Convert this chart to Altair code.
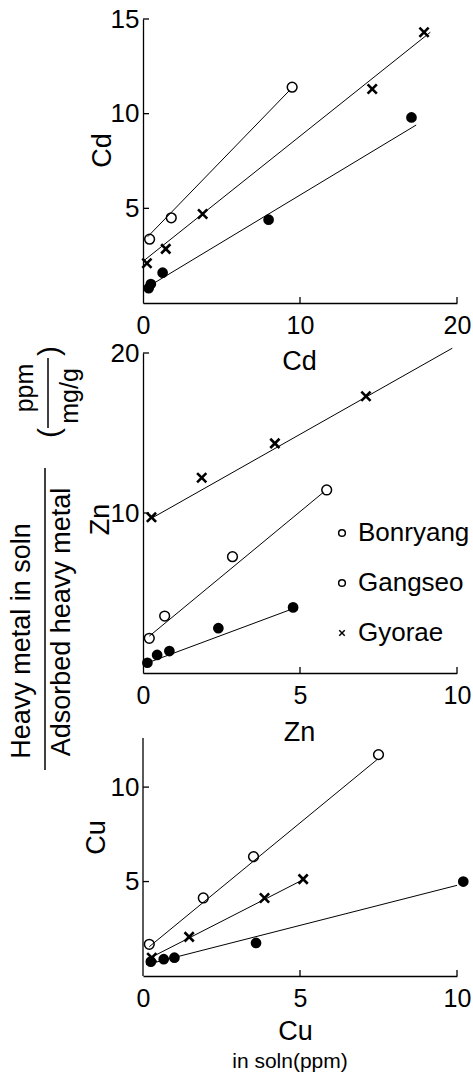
import altair as alt
import pandas as pd

NARROW = "Liberation Sans, Arial, sans-serif"
REG = "Liberation Sans, Arial, sans-serif"
XPATH = "M-1,-1L1,1M-1,1L1,-1"

series_names = ["Bonryang", "Gangseo", "Gyorae"]

# ---------------- Cd panel ----------------
cd_bonryang_x = [0.42, 1.8, 9.5]
cd_bonryang_y = [3.37, 4.5, 11.4]
cd_gangseo_x = [0.36, 0.5, 1.25, 8.0, 17.1]
cd_gangseo_y = [0.78, 1.0, 1.6, 4.4, 9.8]
cd_gyorae_x = [0.25, 1.45, 3.8, 14.6, 17.9]
cd_gyorae_y = [2.1, 2.86, 4.7, 11.3, 14.3]
cd_fit_bonryang_x = [0.3, 9.3]
cd_fit_bonryang_y = [3.5, 11.2]
cd_fit_gangseo_x = [0.1, 17.4]
cd_fit_gangseo_y = [0.75, 9.4]
cd_fit_gyorae_x = [0.0, 18.3]
cd_fit_gyorae_y = [2.2, 14.3]
cd_x_ticks = [0, 10, 20]
cd_y_ticks = [5, 10, 15]

# ---------------- Zn panel ----------------
zn_bonryang_x = [0.2, 0.69, 2.85, 5.85]
zn_bonryang_y = [2.17, 3.56, 7.27, 11.44]
zn_gangseo_x = [0.14, 0.45, 0.84, 2.4, 4.78]
zn_gangseo_y = [0.64, 1.13, 1.37, 2.8, 4.1]
zn_gyorae_x = [0.27, 1.87, 4.2, 7.1]
zn_gyorae_y = [9.73, 12.2, 14.35, 17.3]
zn_fit_bonryang_x = [0.2, 5.75]
zn_fit_bonryang_y = [2.3, 11.3]
zn_fit_gangseo_x = [0.1, 4.75]
zn_fit_gangseo_y = [0.6, 4.0]
zn_fit_gyorae_x = [0.3, 9.85]
zn_fit_gyorae_y = [9.7, 20.3]
zn_x_ticks = [0, 5, 10]
zn_y_ticks = [10, 20]

# ---------------- Cu panel ----------------
cu_bonryang_x = [0.2, 1.92, 3.52, 7.5]
cu_bonryang_y = [1.68, 4.13, 6.32, 11.72]
cu_gangseo_x = [0.25, 0.66, 1.0, 3.6, 10.2]
cu_gangseo_y = [0.76, 0.89, 0.97, 1.75, 5.0]
cu_gyorae_x = [0.28, 1.47, 3.87, 5.1]
cu_gyorae_y = [0.97, 2.07, 4.13, 5.13]
cu_fit_bonryang_x = [0.2, 7.45]
cu_fit_bonryang_y = [1.55, 11.45]
cu_fit_gangseo_x = [0.1, 10.0]
cu_fit_gangseo_y = [0.6, 4.8]
cu_fit_gyorae_x = [0.1, 5.1]
cu_fit_gyorae_y = [0.85, 5.1]
cu_x_ticks = [0, 5, 10]
cu_y_ticks = [5, 10]
cu_axis_top = 12.6

ratio_title_top = ["ppm", "Heavy metal in soln"]
ratio_title_bottom = ["mg/g", "Adsorbed heavy metal"]
x_unit_note = "in soln(ppm)"

W = 314


def pts_df(x, y, name):
    return pd.DataFrame({"x": x, "y": y, "series": name})


def panel(data, fits, xdom, ydom, h, xt, yt, xtitle, xtx, xty, ytitle, ytx, yty,
          extra=(), y_line_top=None):
    xs = alt.Scale(domain=xdom, nice=False, zero=False)
    ys = alt.Scale(domain=ydom, nice=False, zero=False)
    xaxis = alt.Axis(values=xt, ticks=False, tickSize=0, grid=False, labelFlush=False,
                     labelOverlap=False, labelFont=NARROW, labelFontSize=25,
                     labelColor="black", labelPadding=22, labelBaseline="middle",
                     domainColor="black", domainWidth=1.3, title=xtitle,
                     titleFont=NARROW, titleFontSize=27, titleFontWeight="normal",
                     titleColor="black", titleX=xtx, titleY=xty, titleAlign="center",
                     titleBaseline="middle", titleAngle=0)
    yaxis = alt.Axis(values=yt, ticks=False, tickSize=0, grid=False, labelFlush=False,
                     labelOverlap=False, labelFont=NARROW, labelFontSize=26,
                     labelColor="black", labelPadding=4, labelBaseline="middle",
                     domain=(y_line_top is None), domainColor="black", domainWidth=1.3,
                     title=ytitle, titleFont=NARROW, titleFontSize=27,
                     titleFontWeight="normal", titleColor="black", titleX=ytx, titleY=yty,
                     titleAlign="center", titleBaseline="middle", titleAngle=270)

    def X(f="x"):
        return alt.X(f"{f}:Q", scale=xs, axis=xaxis)

    def Y(f="y"):
        return alt.Y(f"{f}:Q", scale=ys, axis=yaxis)

    fit_df = pd.concat([pts_df(fx, fy, n) for (fx, fy, n) in fits], ignore_index=True)
    layers = [
        alt.Chart(fit_df).mark_line(color="black", strokeWidth=1).encode(
            x=X(), y=Y(), detail="series:N"),
    ]
    bon, gan, gyo = data
    layers.append(alt.Chart(bon).mark_point(shape="circle", filled=False, color="black",
                                            size=95, strokeWidth=1.5, opacity=1).encode(
        x=X(), y=Y()))
    layers.append(alt.Chart(gan).mark_point(shape="circle", filled=True, color="black",
                                            size=115, opacity=1).encode(x=X(), y=Y()))
    layers.append(alt.Chart(gyo).mark_point(shape=XPATH, filled=False, color="black",
                                            size=85, strokeWidth=2.6, opacity=1).encode(
        x=X(), y=Y()))
    # inward tick marks
    xtd = pd.DataFrame({"x": [t for t in xt if t != 0]})
    ytd = pd.DataFrame({"y": [t for t in yt if t != 0]})
    layers.append(alt.Chart(xtd).mark_rule(color="black", strokeWidth=1.3).encode(
        x=X(), y=alt.value(h), y2=alt.value(h - 6)))
    layers.append(alt.Chart(ytd).mark_rule(color="black", strokeWidth=1.3).encode(
        y=Y(), x=alt.value(0), x2=alt.value(6)))
    if y_line_top is not None:
        ld = pd.DataFrame({"y": [0], "y_top": [y_line_top]})
        layers.append(alt.Chart(ld).mark_rule(color="black", strokeWidth=1.3).encode(
            x=alt.value(0), y=Y(), y2="y_top:Q"))
    layers.extend(extra)
    return alt.layer(*layers).properties(width=W, height=h)


one = pd.DataFrame({"k": [0]})

# invisible anchor to fix the plot origin (left 143, top 19)
anchor = alt.Chart(one).mark_rule(opacity=0, strokeOpacity=0, color="white").encode(
    x=alt.value(-143), x2=alt.value(-143), y=alt.value(-19), y2=alt.value(-10))

H1, H2, H3 = 284, 320, 253

p1 = panel(
    (pts_df(cd_bonryang_x, cd_bonryang_y, "Bonryang"),
     pts_df(cd_gangseo_x, cd_gangseo_y, "Gangseo"),
     pts_df(cd_gyorae_x, cd_gyorae_y, "Gyorae")),
    [(cd_fit_bonryang_x, cd_fit_bonryang_y, "Bonryang"),
     (cd_fit_gangseo_x, cd_fit_gangseo_y, "Gangseo"),
     (cd_fit_gyorae_x, cd_fit_gyorae_y, "Gyorae")],
    [0, 20], [0, 15], H1, cd_x_ticks, cd_y_ticks,
    "Cd", 156, 58, "Cd", -41, 131, extra=[anchor])

# big shared y title and legend (in Zn panel coordinates)
extra2 = []
extra2.append(alt.Chart(pd.DataFrame({"t": [ratio_title_top[1]]})).mark_text(
    angle=270, font=REG, fontSize=27, color="black", baseline="middle", align="center").encode(
    text="t:N", x=alt.value(-121), y=alt.value(288)))
extra2.append(alt.Chart(pd.DataFrame({"t": [ratio_title_bottom[1]]})).mark_text(
    angle=270, font=REG, fontSize=27, color="black", baseline="middle", align="center").encode(
    text="t:N", x=alt.value(-81), y=alt.value(269)))
extra2.append(alt.Chart(one).mark_rule(color="black", strokeWidth=1.5).encode(
    x=alt.value(-98), y=alt.value(115), y2=alt.value(417)))
extra2.append(alt.Chart(pd.DataFrame({"t": [ratio_title_top[0]]})).mark_text(
    angle=270, font=REG, fontSize=25, color="black", baseline="middle", align="center").encode(
    text="t:N", x=alt.value(-118), y=alt.value(35)))
extra2.append(alt.Chart(pd.DataFrame({"t": [ratio_title_bottom[0]]})).mark_text(
    angle=270, font=REG, fontSize=25, color="black", baseline="middle", align="center").encode(
    text="t:N", x=alt.value(-73), y=alt.value(43)))
extra2.append(alt.Chart(one).mark_rule(color="black", strokeWidth=1.5).encode(
    x=alt.value(-95), y=alt.value(5), y2=alt.value(75)))
extra2.append(alt.Chart(pd.DataFrame({"t": ["("]})).mark_text(
    angle=270, font=REG, fontSize=30, color="black", baseline="middle", align="center").encode(
    text="t:N", x=alt.value(-93), y=alt.value(80)))
extra2.append(alt.Chart(pd.DataFrame({"t": [")"]})).mark_text(
    angle=270, font=REG, fontSize=30, color="black", baseline="middle", align="center").encode(
    text="t:N", x=alt.value(-93), y=alt.value(-2)))

legend_shapes = ["circle", "circle", XPATH]
for i, name in enumerate(series_names):
    ldf = pd.DataFrame({"name": [name]})
    extra2.append(alt.Chart(ldf).mark_point(shape=legend_shapes[i], filled=False,
                                            color="black", size=45 if i < 2 else 30,
                                            strokeWidth=1.5, opacity=1).encode(
        x=alt.value(199), y=alt.value(180 + 50 * i)))
    extra2.append(alt.Chart(ldf).mark_text(font=NARROW, fontSize=26, color="black",
                                           align="left", baseline="middle").encode(
        text="name:N", x=alt.value(215), y=alt.value(180 + 50 * i)))

p2 = panel(
    (pts_df(zn_bonryang_x, zn_bonryang_y, "Bonryang"),
     pts_df(zn_gangseo_x, zn_gangseo_y, "Gangseo"),
     pts_df(zn_gyorae_x, zn_gyorae_y, "Gyorae")),
    [(zn_fit_bonryang_x, zn_fit_bonryang_y, "Bonryang"),
     (zn_fit_gangseo_x, zn_fit_gangseo_y, "Gangseo"),
     (zn_fit_gyorae_x, zn_fit_gyorae_y, "Gyorae")],
    [0, 10], [0, 20], H2, zn_x_ticks, zn_y_ticks,
    "Zn", 156, 59, "Zn", -43, 166, extra=extra2)

cu_scale_top = cu_axis_top * H3 / 238.0
extra3 = [alt.Chart(pd.DataFrame({"t": [x_unit_note]})).mark_text(
    font=NARROW, fontSize=21, color="black", baseline="middle", align="center").encode(
    text="t:N", x=alt.value(147), y=alt.value(H3 + 86))]

p3 = panel(
    (pts_df(cu_bonryang_x, cu_bonryang_y, "Bonryang"),
     pts_df(cu_gangseo_x, cu_gangseo_y, "Gangseo"),
     pts_df(cu_gyorae_x, cu_gyorae_y, "Gyorae")),
    [(cu_fit_bonryang_x, cu_fit_bonryang_y, "Bonryang"),
     (cu_fit_gangseo_x, cu_fit_gangseo_y, "Gangseo"),
     (cu_fit_gyorae_x, cu_fit_gyorae_y, "Gyorae")],
    [0, 10], [0, cu_scale_top], H3, cu_x_ticks, cu_y_ticks,
    "Cu", 152, 55, "Cu", -47, 114, extra=extra3, y_line_top=cu_axis_top)

chart = alt.vconcat(p1, p2, p3, spacing=50, bounds="flush").properties(
    padding=0, background="white").configure_view(stroke=None)

chart.save("out.html", embed_options={"renderer": "svg", "actions": False})
